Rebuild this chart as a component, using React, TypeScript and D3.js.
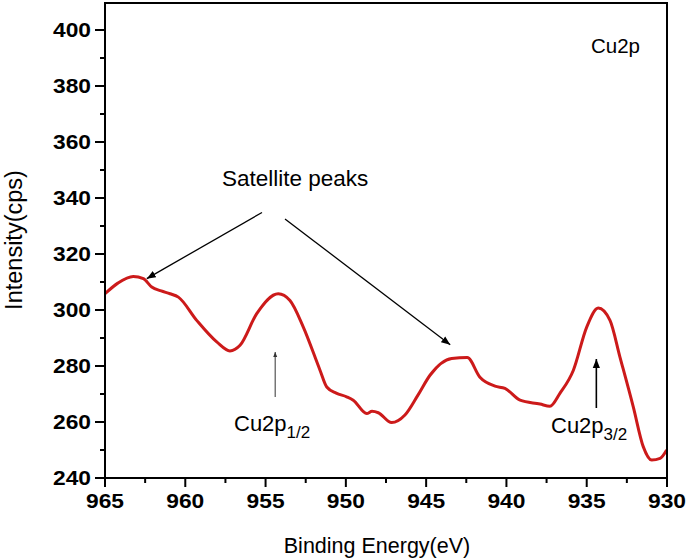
import React from "react";
import * as d3 from "d3";

const energy = [965.0, 964.2, 963.24, 962.61, 962.09, 961.5, 960.95, 960.43, 959.29, 958.04, 957.22, 956.59, 955.55, 954.21, 953.48, 952.65, 951.61, 951.19, 950.6, 949.95, 949.54, 948.7, 948.37, 947.98, 947.15, 946.32, 945.51, 944.76, 943.41, 942.44, 941.65, 940.71, 940.09, 939.15, 937.91, 937.29, 936.66, 935.83, 935.0, 934.28, 933.55, 932.93, 932.1, 931.48, 930.95, 930.43, 930.02];
const intensity = [305.8, 309.6, 312.0, 311.2, 308.2, 306.8, 305.8, 304.6, 296.3, 288.6, 285.4, 287.4, 298.7, 305.8, 303.4, 293.9, 278.5, 272.5, 270.3, 269.0, 267.8, 263.0, 263.8, 263.3, 259.8, 262.5, 269.6, 276.7, 282.7, 283.0, 276.0, 272.8, 272.0, 267.8, 266.4, 265.6, 270.3, 278.5, 293.9, 300.7, 296.3, 283.2, 265.4, 251.2, 246.4, 247.0, 250.0];

const xTicks = [965, 960, 955, 950, 945, 940, 935, 930];
const xMinor = [962.5, 957.5, 952.5, 947.5, 942.5, 937.5, 932.5];
const yTicks = [240, 260, 280, 300, 320, 340, 360, 380, 400];
const yMinor = [250, 270, 290, 310, 330, 350, 370, 390];

const xLabel = "Binding Energy(eV)";
const yLabel = "Intensity(cps)";
const title = "Cu2p";
const satelliteLabel = "Satellite peaks";

export default function App() {
  const W = 688, H = 560;
  const left = 105, right = 667, top = 2, bottom = 478;
  const x = d3.scaleLinear().domain([965, 930]).range([left, right]);
  const y = d3.scaleLinear().domain([240, 410]).range([bottom, top]);
  const pts = energy.map((e, i) => [e, intensity[i]] as [number, number]);
  const line = d3
    .line<[number, number]>()
    .x((d) => x(d[0]))
    .y((d) => y(d[1]))
    .curve(d3.curveMonotoneX);
  const font = "'Liberation Sans', Arial, sans-serif";

  return (
    <svg width={W} height={H} style={{ position: "absolute", left: 0, top: 0, background: "#fff" }} fontFamily={font}>
      <defs>
        <marker id="ah" viewBox="0 0 10 10" refX="10" refY="5" markerWidth="9" markerHeight="9" orient="auto" markerUnits="userSpaceOnUse">
          <path d="M0,1 L10,5 L0,9 z" fill="#000" />
        </marker>
        <marker id="ahs" viewBox="0 0 10 10" refX="10" refY="5" markerWidth="5" markerHeight="5" orient="auto" markerUnits="userSpaceOnUse">
          <path d="M0,1 L10,5 L0,9 z" fill="#333" />
        </marker>
      </defs>
      <path d={line(pts) || ""} fill="none" stroke="#cc1a1a" strokeWidth={3} />
      <rect x={left} y={top + 1} width={right - left} height={bottom - top - 1} fill="none" stroke="#000" strokeWidth={2} />
      {yTicks.map((t) => (
        <g key={"y" + t}>
          <line x1={left - 10} x2={left} y1={y(t)} y2={y(t)} stroke="#000" strokeWidth={2} />
          <text x={91} y={y(t) + 7} textAnchor="end" fontSize={20} fontWeight="bold" textLength={38} lengthAdjust="spacingAndGlyphs">{t}</text>
        </g>
      ))}
      {yMinor.map((t) => (
        <line key={"ym" + t} x1={left - 5} x2={left} y1={y(t)} y2={y(t)} stroke="#000" strokeWidth={2} />
      ))}
      {xTicks.map((t) => (
        <g key={"x" + t}>
          <line x1={x(t)} x2={x(t)} y1={bottom} y2={bottom + 9} stroke="#000" strokeWidth={2} />
          <text x={x(t) - 19} y={508} fontSize={20} fontWeight="bold" textLength={38} lengthAdjust="spacingAndGlyphs">{t}</text>
        </g>
      ))}
      {xMinor.map((t) => (
        <line key={"xm" + t} x1={x(t)} x2={x(t)} y1={bottom} y2={bottom + 5} stroke="#000" strokeWidth={2} />
      ))}
      <text x={377} y={553} textAnchor="middle" fontSize={21.5}>{xLabel}</text>
      <text transform={`translate(22, ${(top + bottom) / 2}) rotate(-90)`} textAnchor="middle" fontSize={23.5}>{yLabel}</text>
      <text x={591} y={53} fontSize={20.5}>{title}</text>
      <text x={222} y={186} fontSize={22.5}>{satelliteLabel}</text>
      <line x1={262} y1={212.5} x2={x(962.4)} y2={y(311.2)} stroke="#000" strokeWidth={1.3} markerEnd="url(#ah)" />
      <line x1={285} y1={219} x2={x(943.5)} y2={y(287.6)} stroke="#000" strokeWidth={1.3} markerEnd="url(#ah)" />
      <line x1={x(954.4)} y1={397} x2={x(954.4)} y2={352} stroke="#555" strokeWidth={1.2} markerEnd="url(#ahs)" />
      <text x={234} y={431} fontSize={22}>
        Cu2p<tspan fontSize={17} dy={7}>1/2</tspan>
      </text>
      <line x1={x(934.4)} y1={408} x2={x(934.4)} y2={359} stroke="#000" strokeWidth={1.6} markerEnd="url(#ah)" />
      <text x={551} y={433} fontSize={22}>
        Cu2p<tspan fontSize={17} dy={7}>3/2</tspan>
      </text>
    </svg>
  );
}
